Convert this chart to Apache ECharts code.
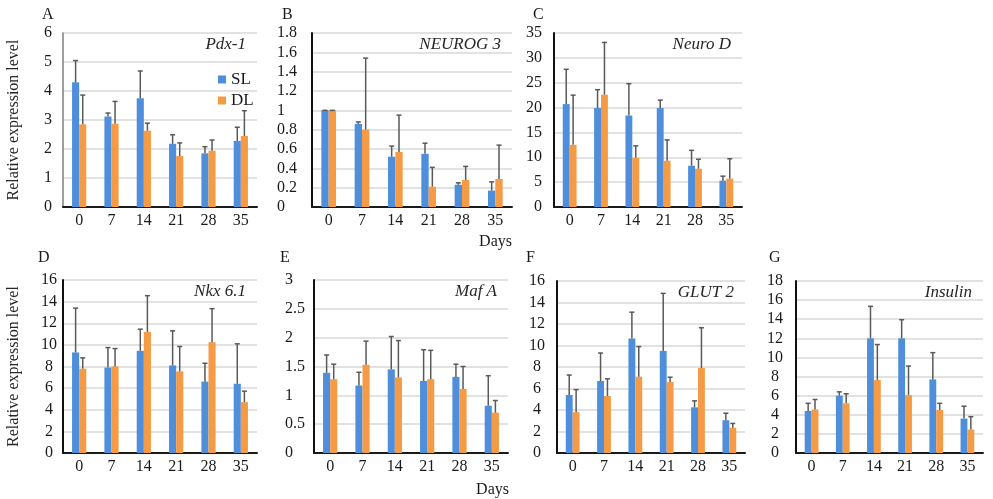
<!DOCTYPE html>
<html>
<head>
<meta charset="utf-8">
<script src="https://cdn.jsdelivr.net/npm/echarts@6/dist/echarts.min.js"></script>
<style>
  html, body { margin: 0; padding: 0; background: #fff; }
  #chart { width: 993px; height: 499px; }
</style>
</head>
<body>
<div id="chart"></div>
<script>
// days after culture
const days = ['0', '7', '14', '21', '28', '35'];

// mean and error (upper SD) for SL / DL
const pdx1SL = [4.3, 3.12, 3.75, 2.18, 1.85, 2.28];
const pdx1SLsd = [0.75, 0.12, 0.94, 0.31, 0.23, 0.47];
const pdx1DL = [2.85, 2.87, 2.63, 1.76, 1.94, 2.45];
const pdx1DLsd = [1.01, 0.77, 0.26, 0.45, 0.37, 0.87];

const neurog3SL = [1.0, 0.86, 0.52, 0.55, 0.23, 0.17];
const neurog3SLsd = [0, 0.02, 0.11, 0.11, 0.02, 0.09];
const neurog3DL = [1.0, 0.8, 0.57, 0.21, 0.28, 0.29];
const neurog3DLsd = [0, 0.74, 0.38, 0.2, 0.14, 0.35];

const neuroDSL = [20.7, 19.9, 18.4, 19.9, 8.3, 5.3];
const neuroDSLsd = [7.0, 3.7, 6.4, 1.6, 3.1, 0.9];
const neuroDDL = [12.5, 22.6, 9.9, 9.3, 7.7, 5.7];
const neuroDDLsd = [10.0, 10.5, 2.4, 4.2, 1.9, 4.0];

const nkx61SL = [9.3, 7.9, 9.45, 8.1, 6.6, 6.4];
const nkx61SLsd = [4.1, 1.85, 2.0, 3.2, 1.7, 3.7];
const nkx61DL = [7.8, 8.0, 11.2, 7.55, 10.25, 4.7];
const nkx61DLsd = [1.0, 1.66, 3.35, 2.3, 3.1, 1.02];

const mafASL = [1.39, 1.17, 1.45, 1.25, 1.32, 0.82];
const mafASLsd = [0.31, 0.23, 0.57, 0.54, 0.22, 0.52];
const mafADL = [1.28, 1.53, 1.31, 1.28, 1.11, 0.7];
const mafADLsd = [0.26, 0.41, 0.64, 0.5, 0.39, 0.21];

const glut2SL = [5.4, 6.7, 10.65, 9.5, 4.25, 3.05];
const glut2SLsd = [1.85, 2.6, 2.45, 5.35, 0.6, 0.65];
const glut2DL = [3.8, 5.3, 7.1, 6.6, 7.9, 2.35];
const glut2DLsd = [2.1, 1.6, 2.8, 0.45, 3.75, 0.4];

const insulinSL = [4.4, 6.0, 12.0, 12.0, 7.7, 3.6];
const insulinSLsd = [0.8, 0.4, 3.35, 1.95, 2.8, 1.3];
const insulinDL = [4.55, 5.2, 7.65, 6.05, 4.5, 2.45];
const insulinDLsd = [1.05, 1.0, 3.7, 3.05, 0.7, 1.35];

const SERIF = '"Liberation Serif", "Times New Roman", serif';
const BLUE = '#4f8edb';
const ORANGE = '#f59a45';
const BAR_PCT = 0.22;

// layout of each small chart
const panels = [
  { letter: 'A', gene: 'Pdx-1', sl: pdx1SL, slSd: pdx1SLsd, dl: pdx1DL, dlSd: pdx1DLsd,
    max: 6, interval: 1, grid: { left: 63, top: 33, width: 194, height: 174 },
    align: 'right', margin: 11, yName: true, softAxis: true, letterPos: [42, 15] },
  { letter: 'B', gene: 'NEUROG 3', sl: neurog3SL, slSd: neurog3SLsd, dl: neurog3DL, dlSd: neurog3DLsd,
    max: 1.8, interval: 0.2, grid: { left: 312, top: 33, width: 200, height: 174 },
    align: 'left', margin: 35, letterPos: [282, 15] },
  { letter: 'C', gene: 'Neuro D', sl: neuroDSL, slSd: neuroDSLsd, dl: neuroDDL, dlSd: neuroDDLsd,
    max: 35, interval: 5, grid: { left: 554, top: 33, width: 188, height: 174 },
    align: 'right', margin: 12, letterPos: [533, 15] },
  { letter: 'D', gene: 'Nkx 6.1', sl: nkx61SL, slSd: nkx61SLsd, dl: nkx61DL, dlSd: nkx61DLsd,
    max: 16, interval: 2, grid: { left: 63, top: 280, width: 194, height: 173 },
    align: 'center', margin: 14, yName: true, letterPos: [38, 258] },
  { letter: 'E', gene: 'Maf A', sl: mafASL, slSd: mafASLsd, dl: mafADL, dlSd: mafADLsd,
    max: 3, interval: 0.5, grid: { left: 314, top: 280, width: 194, height: 173 },
    align: 'left', margin: 29, letterPos: [280, 258] },
  { letter: 'F', gene: 'GLUT 2', sl: glut2SL, slSd: glut2SLsd, dl: glut2DL, dlSd: glut2DLsd,
    max: 16, interval: 2, grid: { left: 557, top: 281, width: 188, height: 172 },
    align: 'center', margin: 20, letterPos: [526, 258] },
  { letter: 'G', gene: 'Insulin', sl: insulinSL, slSd: insulinSLsd, dl: insulinDL, dlSd: insulinDLsd,
    max: 18, interval: 2, grid: { left: 796, top: 281, width: 187, height: 172 },
    align: 'center', margin: 21, letterPos: [769, 258] }
];

// upward-only error bar, shifted onto the SL (-1) or DL (+1) bar
function errorBar(side) {
  return function (params, api) {
    const idx = api.value(0);
    const mean = api.value(1);
    const base = api.coord([idx, mean]);
    const top = api.coord([idx, mean + api.value(2)]);
    const band = api.size([1, 0])[0];
    const x = base[0] + side * band * BAR_PCT / 2;
    const style = { stroke: '#595959', lineWidth: 1.5 };
    return {
      type: 'group',
      children: [
        { type: 'line', shape: { x1: x, y1: base[1], x2: x, y2: top[1] }, style: style },
        { type: 'line', shape: { x1: x - 2.5, y1: top[1], x2: x + 2.5, y2: top[1] }, style: style }
      ]
    };
  };
}

const grids = [];
const xAxes = [];
const yAxes = [];
const series = [];
const graphics = [];

panels.forEach((p, i) => {
  grids.push(Object.assign({ containLabel: false }, p.grid));

  xAxes.push({
    type: 'category', gridIndex: i, data: days,
    axisLine: { lineStyle: { color: '#1a1a1a', width: 2 } },
    axisTick: { show: false },
    axisLabel: { color: '#1a1a1a', fontFamily: SERIF, fontSize: 16, margin: 6 }
  });

  yAxes.push({
    type: 'value', gridIndex: i, min: 0, max: p.max, interval: p.interval,
    name: p.yName ? 'Relative expression level' : '',
    nameLocation: 'middle', nameGap: 41,
    nameTextStyle: { color: '#262626', fontFamily: SERIF, fontSize: 16 },
    axisLine: { show: true, lineStyle: { color: p.softAxis ? '#7f7f7f' : '#111', width: p.softAxis ? 1.5 : 2 } },
    axisTick: { show: false },
    axisLabel: { color: '#1a1a1a', fontFamily: SERIF, fontSize: 16, align: p.align, margin: p.margin },
    splitLine: { lineStyle: { color: '#d9d9d9', width: 1.5 } }
  });

  const slData = p.sl.map((v, k) => [k, v, p.slSd[k]]);
  const dlData = p.dl.map((v, k) => [k, v, p.dlSd[k]]);

  series.push(
    { name: 'SL', type: 'bar', xAxisIndex: i, yAxisIndex: i, data: p.sl,
      barWidth: (BAR_PCT * 100) + '%', barGap: '0%', itemStyle: { color: BLUE }, silent: true },
    { name: 'DL', type: 'bar', xAxisIndex: i, yAxisIndex: i, data: p.dl,
      barWidth: (BAR_PCT * 100) + '%', barGap: '0%', itemStyle: { color: ORANGE }, silent: true },
    { type: 'custom', xAxisIndex: i, yAxisIndex: i, data: slData, renderItem: errorBar(-1),
      encode: { x: 0, y: [1, 2] }, z: 5, silent: true },
    { type: 'custom', xAxisIndex: i, yAxisIndex: i, data: dlData, renderItem: errorBar(1),
      encode: { x: 0, y: [1, 2] }, z: 5, silent: true }
  );

  // panel letter and gene name
  graphics.push({
    type: 'text', x: p.letterPos[0], y: p.letterPos[1],
    style: { text: p.letter, font: '16px ' + SERIF, fill: '#1a1a1a', textVerticalAlign: 'middle' }
  });
  graphics.push({
    type: 'text', x: p.grid.left + p.grid.width - 11, y: p.grid.top + 12,
    style: { text: p.gene, font: 'italic 17px ' + SERIF, fill: '#262626',
      textAlign: 'right', textVerticalAlign: 'middle' }
  });
});

graphics.push(
  { type: 'text', x: 512, y: 242, style: { text: 'Days', font: '16px ' + SERIF, fill: '#1a1a1a', textAlign: 'right', textVerticalAlign: 'middle' } },
  { type: 'text', x: 509, y: 490, style: { text: 'Days', font: '16px ' + SERIF, fill: '#1a1a1a', textAlign: 'right', textVerticalAlign: 'middle' } }
);

const chart = echarts.init(document.getElementById('chart'), null, { renderer: 'canvas' });
chart.setOption({
  backgroundColor: '#fff',
  animation: false,
  legend: {
    data: ['SL', 'DL'], orient: 'vertical', left: 213, top: 66,
    itemWidth: 8, itemHeight: 8, itemGap: 4, icon: 'rect',
    textStyle: { fontFamily: SERIF, fontSize: 17, color: '#1a1a1a', lineHeight: 16 }
  },
  grid: grids,
  xAxis: xAxes,
  yAxis: yAxes,
  series: series,
  graphic: graphics
});
</script>
</body>
</html>
